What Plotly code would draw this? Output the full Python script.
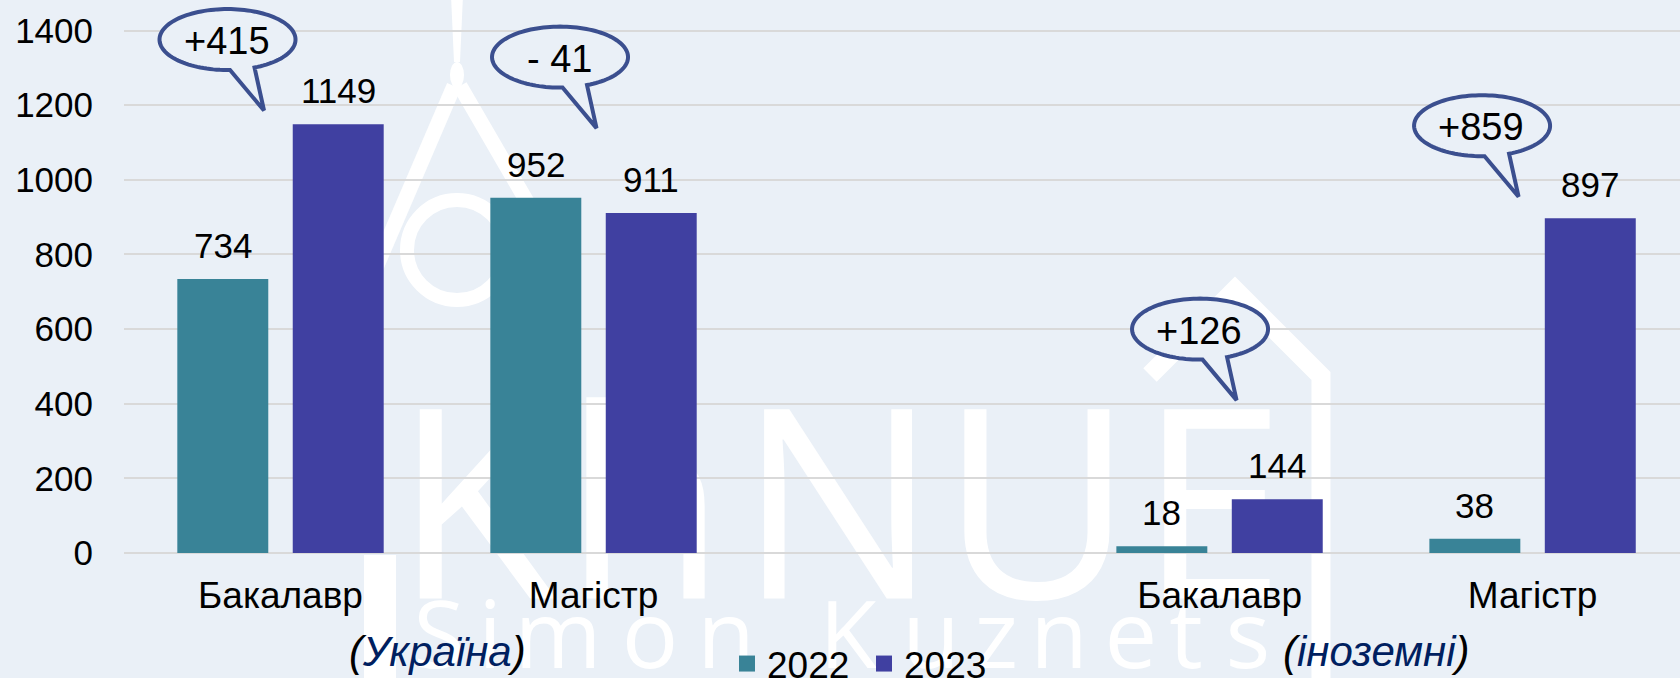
import numpy as np
import plotly.graph_objects as go

# ---------------- data ----------------
groups = ["Україна", "іноземні"]
categories = ["Бакалавр", "Магістр", "Бакалавр", "Магістр"]
category_group = [0, 0, 1, 1]
series_names = ["2022", "2023"]
values_2022 = [734, 952, 18, 38]
values_2023 = [1149, 911, 144, 897]
y_tick_values = [0, 200, 400, 600, 800, 1000, 1200, 1400]

# ---------------- style / layout ----------------
W, H = 1680, 678
M_L, M_R, M_T, M_B = 124, 0, 0, 125
BG = "#EAF0F7"
GRID = "#D9D9D9"
BAR_COLORS = ["#398397", "#4040A1"]
BUBBLE_LINE = "#3B4F8F"
GROUP_LABEL_COLOR = "#002060"
FONT = "Liberation Sans, Arial, sans-serif"
WM_FONT = "Open Sans, sans-serif"
BARGAP = 0.2625
BARGROUPGAP = 0.212
X_RANGE = [-0.5, 4.471]
Y_RANGE = [0, 1482]

# callouts: centre level (axis units) and horizontal offset (px) from category centre
BUBBLE_LEVEL = [1376, 1329, 600, 1145]
BUBBLE_DX = [-53, -33.5, -19.5, -50.5]

PLOT_W = W - M_L - M_R
PLOT_H = H - M_T - M_B


def px_x(px):
    return (px - M_L) / PLOT_W


def px_y(py):
    return (H - M_B - py) / PLOT_H


# category positions (empty slot between the two groups)
x_pos = []
for k, g in enumerate(category_group):
    within = sum(1 for j in range(k) if category_group[j] == g)
    x_pos.append(g * 3 + within)

fig = go.Figure()
for name, vals, col in zip(series_names, [values_2022, values_2023], BAR_COLORS):
    fig.add_trace(go.Bar(x=x_pos, y=vals, name=name,
                         marker=dict(color=col, line=dict(width=0)),
                         showlegend=False, hoverinfo="skip"))
for name, col in zip(series_names, BAR_COLORS):
    fig.add_trace(go.Scatter(x=[None], y=[None], mode="markers", name=name,
                             marker=dict(symbol="square", size=18, color=col),
                             showlegend=True, hoverinfo="skip"))

annotations = []
shapes = []

# value labels
half = (1 - BARGAP) / 4
offsets = [-half, half]
for s, vals in enumerate([values_2022, values_2023]):
    for k in range(len(categories)):
        annotations.append(dict(x=x_pos[k] + offsets[s], y=vals[k], xref="x", yref="y",
                                text=str(vals[k]), showarrow=False, yanchor="bottom",
                                yshift=12, font=dict(size=35, color="black", family=FONT)))

# change callouts
diffs = [b - a for a, b in zip(values_2022, values_2023)]
diff_labels = [f"+{d}" if d > 0 else f"- {abs(d)}" for d in diffs]


def bubble_path(dx, rx=68.0, ry=30.5, base_l=2.5, base_r=27.0, tip=(36.5, 71.0), n=120):
    a0 = np.arccos(base_r / rx)
    a1 = np.arccos(base_l / rx) - 2 * np.pi
    angs = np.linspace(a0, a1, n)
    pts = [(dx + rx * np.cos(a), -ry * np.sin(a)) for a in angs]
    pts.append((dx + tip[0], -tip[1]))
    return "M" + " L".join(f"{x:.2f},{y:.2f}" for x, y in pts) + " Z"


for k in range(len(categories)):
    shapes.append(dict(type="path", xref="x", yref="y", xsizemode="pixel", ysizemode="pixel",
                       xanchor=x_pos[k], yanchor=BUBBLE_LEVEL[k], path=bubble_path(BUBBLE_DX[k]),
                       line=dict(color=BUBBLE_LINE, width=4), fillcolor=BG, layer="above"))
    annotations.append(dict(x=x_pos[k], y=BUBBLE_LEVEL[k], xref="x", yref="y",
                            xshift=BUBBLE_DX[k] - 1, yshift=-1.5, text=diff_labels[k],
                            showarrow=False, font=dict(size=38, color="black", family=FONT)))

# group labels
for g, name in enumerate(groups):
    xs = [x_pos[k] for k in range(len(categories)) if category_group[k] == g]
    xc = (min(xs) + max(xs)) / 2
    annotations.append(dict(x=xc, xref="x", y=px_y(651), yref="paper", yanchor="middle",
                            text=f"<i>(<span style='color:{GROUP_LABEL_COLOR}'>{name}</span>)</i>",
                            showarrow=False, font=dict(size=42, color="black", family=FONT)))

# ---------------- background watermark (white, below everything) ----------------
WM_BIG = [("K", 475), ("h", 645), ("N", 838), ("U", 1037), ("E", 1212)]
WM_SMALL = [("S", 439), ("i", 490), ("m", 558), ("o", 650), ("n", 726), ("K", 848),
            ("u", 931), ("z", 996), ("n", 1059), ("e", 1131), ("t", 1186), ("s", 1248)]


def wm_text(ch, cx, cy, size):
    return dict(type="rect", xref="paper", yref="paper",
                x0=px_x(cx - 80), x1=px_x(cx + 80), y0=px_y(cy + 80), y1=px_y(cy - 80),
                line=dict(width=0), fillcolor="rgba(0,0,0,0)", layer="below",
                label=dict(text=ch, font=dict(size=size, color="white", family=WM_FONT),
                           textposition="middle center"))


for ch, cx in WM_BIG:
    shapes.append(wm_text(ch, cx, 514, 265))
for ch, cx in WM_SMALL:
    shapes.append(wm_text(ch, cx, 638, 94))


def ppath(pts, close=False):
    s = "M" + " L".join(f"{px_x(x):.5f},{px_y(y):.5f}" for x, y in pts)
    return s + (" Z" if close else "")


WHITE = "white"
# compass
shapes.append(dict(type="path", xref="paper", yref="paper", layer="below",
                   path=ppath([(451, -5), (463, -5), (460, 62), (454, 62)], True),
                   fillcolor=WHITE, line=dict(width=0)))
shapes.append(dict(type="circle", xref="paper", yref="paper", layer="below",
                   x0=px_x(450), x1=px_x(464), y0=px_y(88), y1=px_y(62),
                   fillcolor=WHITE, line=dict(width=0)))
shapes.append(dict(type="path", xref="paper", yref="paper", layer="below",
                   path=ppath([(454, 86), (360, 305)]), line=dict(color=WHITE, width=15)))
shapes.append(dict(type="path", xref="paper", yref="paper", layer="below",
                   path=ppath([(460, 86), (555, 250)]), line=dict(color=WHITE, width=15)))
shapes.append(dict(type="circle", xref="paper", yref="paper", layer="below",
                   x0=px_x(407), x1=px_x(507), y0=px_y(300), y1=px_y(200),
                   fillcolor="rgba(0,0,0,0)", line=dict(color=WHITE, width=14)))
# house around E
shapes.append(dict(type="path", xref="paper", yref="paper", layer="below",
                   path=ppath([(1150, 375), (1235, 290), (1321, 376), (1321, 700)]),
                   fillcolor="rgba(0,0,0,0)", line=dict(color=WHITE, width=19)))
# separator bar
shapes.append(dict(type="rect", xref="paper", yref="paper", layer="below",
                   x0=px_x(364), x1=px_x(396), y0=px_y(700), y1=px_y(555),
                   fillcolor=WHITE, line=dict(width=0)))

fig.update_layout(
    width=W, height=H,
    margin=dict(l=M_L, r=M_R, t=M_T, b=M_B, autoexpand=False),
    paper_bgcolor=BG, plot_bgcolor=BG,
    barmode="group", bargap=BARGAP, bargroupgap=BARGROUPGAP,
    font=dict(family=FONT, size=35, color="black"),
    xaxis=dict(range=X_RANGE, tickvals=x_pos, ticktext=categories, showgrid=False,
               zeroline=False, showline=False, ticks="", ticklabelstandoff=17,
               tickfont=dict(size=37, family=FONT, color="black"), fixedrange=True),
    yaxis=dict(range=Y_RANGE, tickvals=y_tick_values, showgrid=True, gridcolor=GRID,
               gridwidth=2, zeroline=True, zerolinecolor=GRID, zerolinewidth=2,
               ticks="", ticklabelstandoff=30, showline=False,
               tickfont=dict(size=35, family=FONT, color="black"), fixedrange=True),
    legend=dict(orientation="h", x=px_x(864), xanchor="center", y=px_y(633), yanchor="top",
                font=dict(size=37, family=FONT, color="black"), bgcolor="rgba(0,0,0,0)",
                entrywidth=92),
    showlegend=True,
    annotations=annotations,
    shapes=shapes,
)

fig.write_html("out.html", config={"displayModeBar": False},
               post_script="document.body.style.margin='0';document.body.style.overflow='hidden';")
